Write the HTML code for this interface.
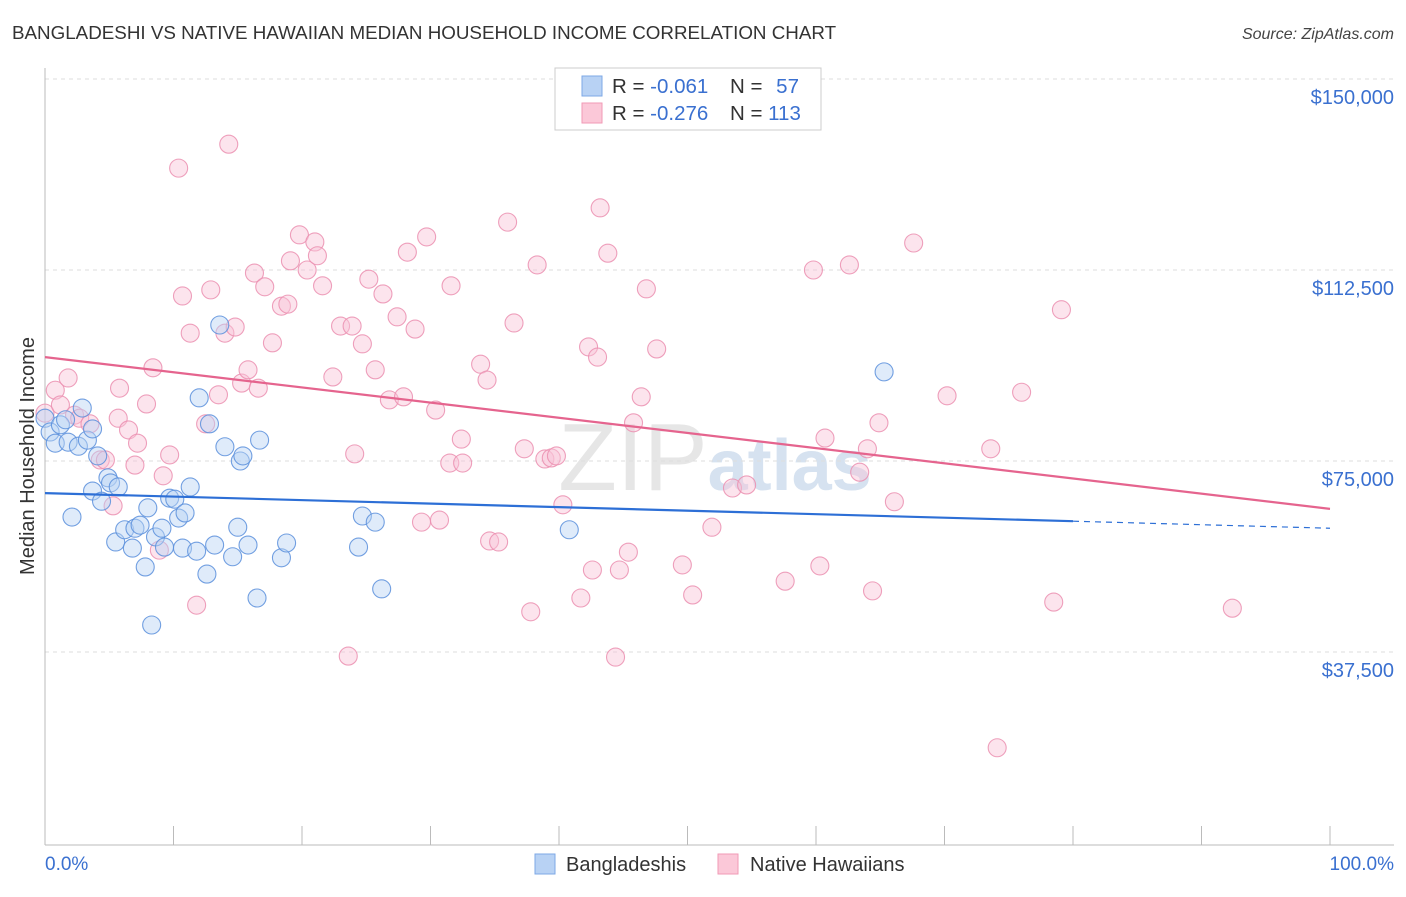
<!DOCTYPE html>
<html><head><meta charset="utf-8"><style>
body{margin:0;background:#fff;font-family:"Liberation Sans",sans-serif;}
svg text{font-family:"Liberation Sans",sans-serif;}
</style></head><body>
<svg id="chart" width="1406" height="892" viewBox="0 0 1406 892" xmlns="http://www.w3.org/2000/svg">
<text x="12" y="39" font-size="18.8" fill="#333">BANGLADESHI VS NATIVE HAWAIIAN MEDIAN HOUSEHOLD INCOME CORRELATION CHART</text>
<text x="1394" y="39" font-size="16" fill="#444" text-anchor="end" font-style="italic">Source: ZipAtlas.com</text>
<text x="715" y="490" font-size="96" fill="#e6e6e6" text-anchor="middle" font-family="Liberation Serif">ZIP<tspan fill="#d6e2f0" font-family="Liberation Sans" font-size="72" font-weight="bold">atlas</tspan></text>
<g id="grid"></g>
<g id="axes"></g>
<g id="pts"></g>
<g id="lines"></g>
<text transform="translate(34,456) rotate(-90)" font-size="20" fill="#333" text-anchor="middle">Median Household Income</text>
<text x="45" y="870" font-size="19" fill="#3a70d0">0.0%</text>
<text x="1394" y="870" font-size="19" fill="#3a70d0" text-anchor="end">100.0%</text>
<g>
<rect x="555" y="68" width="266" height="62" fill="#fff" stroke="#ccc"/>
<rect x="582" y="76" width="20" height="20" fill="#b8d2f4" stroke="#7ea8e6"/>
<rect x="582" y="103" width="20" height="20" fill="#fbc8d8" stroke="#f09ab6"/>
<text x="612" y="93" font-size="20.5" fill="#333">R = <tspan fill="#3a70d0">-0.061</tspan></text>
<text x="730" y="93" font-size="20.5" fill="#333">N = <tspan fill="#3a70d0" dx="8">57</tspan></text>
<text x="612" y="120" font-size="20.5" fill="#333">R = <tspan fill="#3a70d0">-0.276</tspan></text>
<text x="730" y="120" font-size="20.5" fill="#333">N = <tspan fill="#3a70d0">113</tspan></text>
</g>
<g>
<rect x="535" y="854" width="20" height="20" fill="#b8d2f4" stroke="#7ea8e6"/>
<text x="566" y="871" font-size="20" fill="#333">Bangladeshis</text>
<rect x="718" y="854" width="20" height="20" fill="#fbc8d8" stroke="#f09ab6"/>
<text x="750" y="871" font-size="20" fill="#333">Native Hawaiians</text>
</g>
</svg>
<script>
const yTicks=[37500,75000,112500,150000];
const yTickLabels=["$37,500","$75,000","$112,500","$150,000"];
const blueX=[0,0.4,0.8,1.2,1.6,1.8,2.6,2.9,3.3,3.7,2.1,3.7,4.1,4.4,4.9,5.1,5.7,5.5,6.2,6.8,7.0,7.4,7.8,8.0,8.3,8.6,9.1,9.3,9.7,10.1,10.4,10.7,10.9,11.3,11.8,12.0,12.6,12.8,13.2,13.6,14.0,14.6,15.0,15.2,15.4,15.8,16.5,16.7,18.4,18.8,24.4,24.7,25.7,26.2,40.8,65.3];
const blueY=[83.4,80.7,78.5,82.1,83.1,78.7,77.9,85.4,79.1,81.3,64.0,69.1,76.0,67.1,71.7,70.7,69.9,59.1,61.5,57.9,61.8,62.4,54.2,65.8,42.8,60.1,61.8,58.1,67.7,67.5,63.8,57.9,64.8,69.9,57.3,87.4,52.8,82.3,58.5,101.7,77.8,56.2,62.0,75.0,76.0,58.5,48.1,79.1,56.0,58.9,58.1,64.2,63.0,49.9,61.5,92.5];
const pinkX=[0,0.8,1.2,1.8,2.3,2.7,3.5,4.3,4.7,5.3,5.7,5.8,6.5,7.0,7.2,7.9,8.4,8.9,9.2,9.7,10.4,10.7,11.3,11.8,12.5,12.9,13.5,14.0,14.3,14.8,15.3,15.8,16.3,16.6,17.1,17.7,18.4,18.9,19.1,19.8,20.4,21.0,21.2,21.6,22.4,23.0,23.6,23.9,24.1,24.7,25.2,25.7,26.3,26.8,27.4,27.9,28.2,28.8,29.3,29.7,30.4,30.7,31.6,31.5,32.4,32.5,33.9,34.4,34.6,35.3,36.0,36.5,37.3,37.8,38.3,38.9,39.4,39.8,40.3,41.7,42.3,42.6,43.0,43.2,43.8,44.4,44.7,45.4,45.8,46.4,46.8,47.6,49.6,50.4,51.9,53.5,54.6,57.6,59.8,60.3,60.7,62.6,63.4,64.0,64.4,64.9,66.1,67.6,70.2,73.6,74.1,76.0,78.5,79.1,92.4];
const pinkY=[84.4,88.9,86.0,91.3,84.0,83.4,82.3,75.2,75.2,66.2,83.4,89.3,81.1,74.2,78.5,86.2,93.3,57.5,72.1,76.2,132.5,107.4,100.1,46.7,82.3,108.6,88.0,100.1,137.2,101.3,90.3,92.9,111.9,89.3,109.2,98.2,105.4,105.8,114.3,119.4,112.5,118.0,115.3,109.4,91.5,101.5,36.7,101.5,76.4,98.0,110.7,92.9,107.8,87.0,103.3,87.6,116.0,100.9,63.0,119.0,85.0,63.4,109.4,74.6,79.3,74.6,94.0,90.9,59.3,59.1,121.9,102.1,77.4,45.4,113.5,75.4,75.6,76.0,66.4,48.1,97.4,53.6,95.4,124.7,115.8,36.5,53.6,57.1,82.5,87.6,108.8,97.0,54.6,48.7,62.0,69.7,70.3,51.4,112.5,54.4,79.5,113.5,72.8,77.4,49.5,82.5,67.0,117.8,87.8,77.4,18.7,88.5,47.3,104.7,46.1];
const blueTrend=[68.7,-0.069];   // intercept (k$), slope per %
const pinkTrend=[95.4,-0.298];
const NS="http://www.w3.org/2000/svg";
const X0=45,X1=1330,Y0=843,Yper=191/37500;
function sx(p){return X0+(X1-X0)*p/100;}
function sy(v){return Y0-v*Yper;}
function mk(tag,attrs,parent){const e=document.createElementNS(NS,tag);for(const k in attrs)e.setAttribute(k,attrs[k]);parent.appendChild(e);return e;}
const grid=document.getElementById('grid'),axes=document.getElementById('axes'),pts=document.getElementById('pts'),lines=document.getElementById('lines');
yTicks.forEach((t,i)=>{
  const l=mk('line',{x1:X0,x2:1394,y1:sy(t),y2:sy(t),stroke:'#ddd','stroke-dasharray':'4,4'},grid);
  
  
  const tx=mk('text',{x:1394,y:sy(t)+25,'font-size':20,fill:'#3a70d0','text-anchor':'end'},grid);
  tx.textContent=yTickLabels[i];
  
  
});
const ya=mk('line',{x1:X0,x2:X0,y1:68,y2:845,stroke:'#bbb'},axes);


const xa=mk('line',{x1:X0,x2:1394,y1:845,y2:845,stroke:'#bbb'},axes);


for(let i=0;i<=10;i++){
  const t=mk('line',{x1:sx(i*10),x2:sx(i*10),y1:826,y2:845,stroke:'#bbb'},axes);
  
  
}
function drawPts(xs,ys,fill,stroke,name){
  xs.forEach((x,i)=>{
    const c=mk('circle',{cx:sx(x),cy:sy(ys[i]*1000),r:9,fill:fill,'fill-opacity':0.45,stroke:stroke,'stroke-width':1.1,'stroke-opacity':0.85},pts);
    
    
  });
}
drawPts(pinkX,pinkY,'#f9c4d6','#eb8fb0','native-hawaiian-point');
drawPts(blueX,blueY,'#b8d2f4','#5b8fdc','bangladeshi-point');
function tv(tr,p){return (tr[0]+tr[1]*p)*1000;}
const bl=mk('line',{x1:sx(0),y1:sy(tv(blueTrend,0)),x2:sx(80),y2:sy(tv(blueTrend,80)),stroke:'#2d6fd6','stroke-width':2.2},lines);


const bd=mk('line',{x1:sx(80),y1:sy(tv(blueTrend,80)),x2:sx(100),y2:sy(tv(blueTrend,100)),stroke:'#2d6fd6','stroke-width':1.2,'stroke-dasharray':'6,5'},lines);


const pl=mk('line',{x1:sx(0),y1:sy(tv(pinkTrend,0)),x2:sx(100),y2:sy(tv(pinkTrend,100)),stroke:'#e5648e','stroke-width':2.2},lines);


</script>
</body></html>
